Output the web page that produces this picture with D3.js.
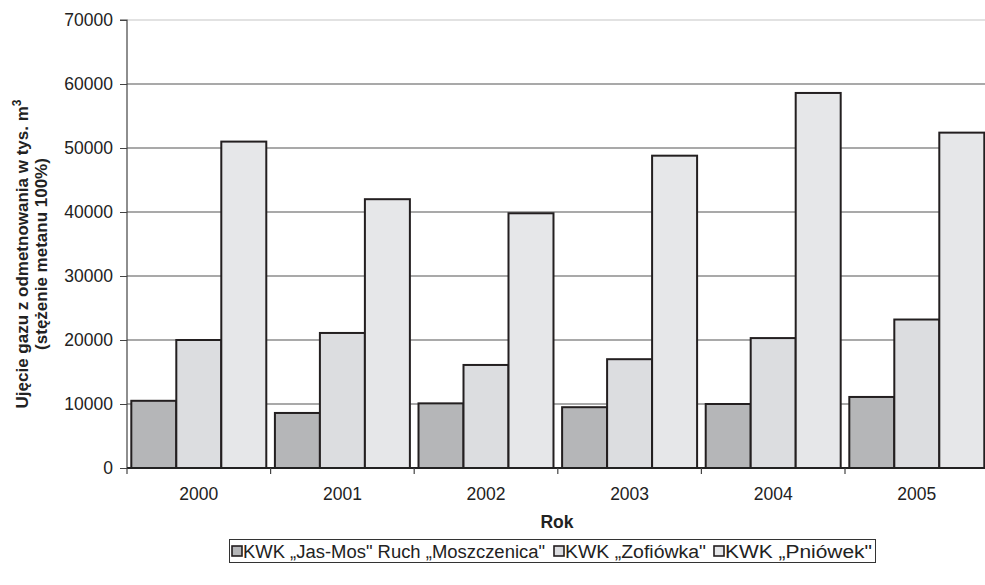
<!DOCTYPE html>
<html><head><meta charset="utf-8">
<script src="https://cdn.jsdelivr.net/npm/d3@7"></script>
<style>body{margin:0;background:#fff}svg{display:block}text{font-family:"Liberation Sans",Arial,sans-serif}</style>
</head><body><svg id="c" width="985" height="585"></svg>
<script>
const years = ["2000","2001","2002","2003","2004","2005"];
const seriesNames = ["KWK \u201eJas-Mos\" Ruch \u201eMoszczenica\"","KWK \u201eZofiówka\"","KWK \u201ePniówek\""];
const jasMos = [10500, 8600, 10100, 9500, 10000, 11100];
const zofiowka = [20000, 21100, 16100, 17000, 20300, 23200];
const pniowek = [51000, 42000, 39800, 48800, 58600, 52400];
const yTicks = [0,10000,20000,30000,40000,50000,60000,70000];
const colors = ["#b5b6b8","#dcdde0","#e6e7e9"];
const seriesValues = [jasMos, zofiowka, pniowek];

(function(){
const FS = 17.5;
const svg = d3.select("#c");
const mLeft = 127, mTop = 20, mBottom = 468, mRight = 988.6;
const x = d3.scaleBand().domain(years).range([mLeft, mRight]).paddingInner(0.06).paddingOuter(0.03);
const x0 = d3.scaleBand().domain(years).range([mLeft, mRight]);
const y = d3.scaleLinear().domain([0,70000]).range([mBottom, mTop]);
const xs = d3.scaleBand().domain([0,1,2]).range([0, x.bandwidth()]);

svg.append("g").selectAll("line").data(yTicks.slice(1)).join("line")
  .attr("x1", mLeft).attr("x2", 985).attr("y1", d=>y(d)).attr("y2", d=>y(d))
  .attr("stroke", d => d===70000 ? "#d8d8d8" : "#8c8c8c").attr("stroke-width", 1.4);

const g = svg.append("g");
seriesValues.forEach((vals, si) => {
  g.append("g").selectAll("rect").data(vals).join("rect")
    .attr("x", (d,i)=> x(years[i]) + xs(si))
    .attr("y", d=>y(d))
    .attr("width", xs.bandwidth())
    .attr("height", d=> mBottom - y(d))
    .attr("fill", colors[si]).attr("stroke", "#231f20").attr("stroke-width", 2);
});

const ya = svg.append("g").attr("transform", `translate(${mLeft},0)`)
  .call(d3.axisLeft(y).tickValues(yTicks).tickSize(7).tickPadding(7).tickFormat(d3.format("d")));
ya.select(".domain").attr("stroke", "#444").attr("stroke-width", 1.2).attr("d", `M-7,${mTop}H0V${mBottom}`);
ya.selectAll(".tick line").attr("stroke", "#444");
ya.selectAll("text").attr("font-size", FS).attr("fill", "#222").style("font-family", "Liberation Sans, Arial");

const xa = svg.append("g").attr("transform", `translate(0,${mBottom})`)
  .call(d3.axisBottom(x0).tickSize(0).tickPadding(20));
xa.select(".domain").attr("stroke", "#222").attr("stroke-width", 2).attr("d", `M${mLeft},0H985`);
xa.selectAll("text").attr("font-size", FS).attr("fill", "#222").style("font-family", "Liberation Sans, Arial");
svg.append("g").selectAll("line").data(years.concat(["end"])).join("line")
  .attr("x1", (d,i)=> mLeft + i*x0.bandwidth()).attr("x2", (d,i)=> mLeft + i*x0.bandwidth())
  .attr("y1", mBottom).attr("y2", mBottom+6).attr("stroke", "#444").attr("stroke-width", 1.2);

svg.append("text").attr("x", 557).attr("y", 528).attr("text-anchor","middle")
  .attr("font-size", FS).attr("font-weight","bold").attr("fill","#222").text("Rok");
const yt = svg.append("text").attr("transform","translate(0,254) rotate(-90)")
  .attr("text-anchor","middle").attr("font-size",17).attr("font-weight","bold").attr("fill","#222");
yt.append("tspan").attr("x",0).attr("y",28).text("Ujęcie gazu z odmetnowania w tys. m");
yt.append("tspan").attr("dy",-7).attr("font-size",12).text("3");
yt.append("tspan").attr("x",0).attr("y",47).text("(stężenie metanu 100%)");

const lg = svg.append("g");
lg.append("rect").attr("x",229.5).attr("y",539.5).attr("width",646).attr("height",23)
  .attr("fill","#fff").attr("stroke","#333").attr("stroke-width",1);
const legX = [232, 554, 714];
const legW = [302, 141, 147];
seriesNames.forEach((n,i)=>{
  lg.append("rect").attr("x",legX[i]).attr("y",546).attr("width",10).attr("height",10)
    .attr("fill",colors[i]).attr("stroke","#231f20").attr("stroke-width",1.6);
  lg.append("text").attr("x",legX[i]+11).attr("y",557.5).attr("font-size",18).attr("fill","#222")
    .attr("textLength", legW[i]).attr("lengthAdjust","spacingAndGlyphs").text(n);
});
})();
</script></body></html>
